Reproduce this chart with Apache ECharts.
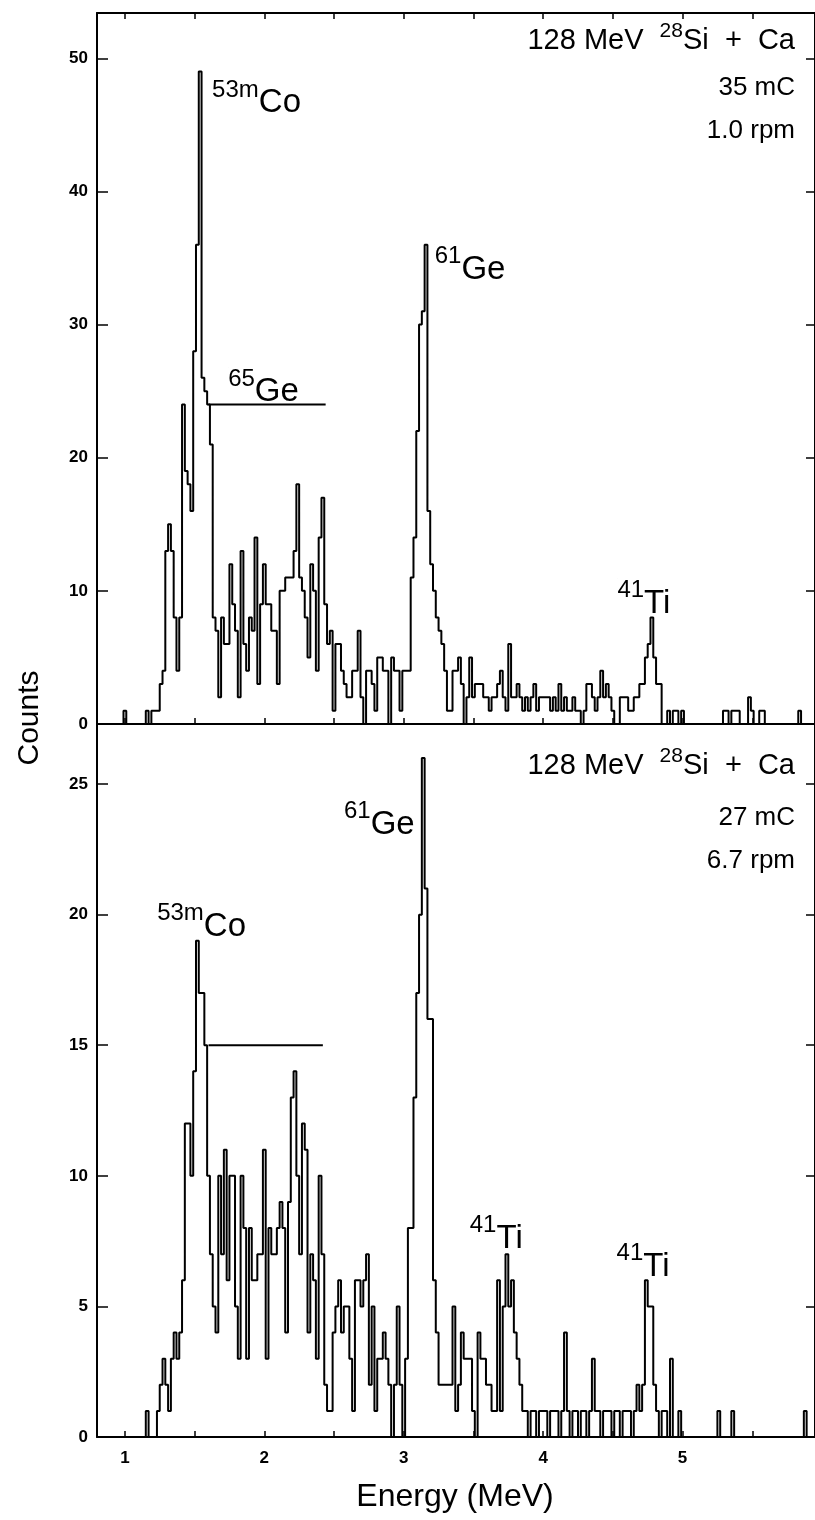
<!DOCTYPE html>
<html>
<head>
<meta charset="utf-8">
<script src="https://cdn.jsdelivr.net/npm/echarts@6/dist/echarts.min.js"></script>
<style>
  html, body { margin: 0; padding: 0; background: #fff; }
  #chart { width: 815px; height: 1520px; }
</style>
</head>
<body>
<div id="chart"></div>
<script>
// Pulse-height spectra: counts per 20 keV channel, first channel starts at 0.97 MeV
const BIN_START = 0.97;
const BIN_WIDTH = 0.02;

// 35 mC, 1.0 rpm
const topCounts = [
  0,1,0,0,0,0,0,0,0,1,
  0,1,1,1,3,4,13,15,13,8,
  4,8,24,19,18,16,28,36,49,26,
  25,24,21,8,7,2,8,6,6,12,
  9,7,2,13,6,4,8,7,14,3,
  9,12,9,9,7,7,3,10,10,11,
  11,11,13,18,11,10,8,5,12,10,
  4,14,17,9,6,7,1,6,6,4,
  3,2,2,4,4,7,2,0,4,4,
  3,1,5,5,4,4,0,5,4,4,
  1,4,4,4,11,14,22,30,31,36,
  16,12,10,8,7,6,4,1,1,4,
  4,5,3,0,2,5,2,3,3,3,
  2,2,1,2,2,3,4,2,1,6,
  2,2,3,2,1,2,1,2,3,1,
  2,2,2,2,1,2,1,3,1,2,
  1,1,2,1,1,0,1,3,3,2,
  1,2,4,2,3,2,1,0,0,2,
  2,2,1,1,2,2,3,3,5,6,
  8,5,3,3,0,0,1,0,1,1,
  0,1,0,0,0,0,0,0,0,0,
  0,0,0,0,0,0,1,1,0,1,
  1,1,0,0,0,2,1,0,0,1,
  1,0,0,0,0,0,0,0,0,0,
  0,0,0,1,0,0,0,0,0
];

// 27 mC, 6.7 rpm
const bottomCounts = [
  0,0,0,0,0,0,0,0,0,1,
  0,0,0,1,2,3,2,1,3,4,
  3,4,6,12,12,10,14,19,17,17,
  15,10,7,5,4,10,7,11,6,10,
  10,5,3,10,8,3,8,6,6,7,
  7,11,3,8,7,7,8,9,8,4,
  9,13,14,10,7,12,11,4,7,6,
  3,10,7,2,1,1,4,5,6,4,
  5,5,3,1,6,6,5,6,7,2,
  5,1,3,3,4,3,2,0,2,5,
  2,0,3,8,8,13,17,20,26,21,
  16,16,6,4,2,2,2,2,2,5,
  1,2,4,3,3,3,1,0,4,3,
  3,2,2,1,1,6,1,5,7,5,
  6,4,3,2,1,1,0,1,1,0,
  1,1,1,0,1,1,1,0,1,4,
  1,0,1,1,0,1,1,0,1,3,
  1,1,0,1,1,1,0,1,1,0,
  1,1,1,0,1,2,1,2,6,5,
  5,2,1,0,1,1,0,3,0,0,
  1,0,0,0,0,0,0,0,0,0,
  0,0,0,0,1,0,0,0,0,1,
  0,0,0,0,0,0,0,0,0,0,
  0,0,0,0,0,0,0,0,0,0,
  0,0,0,0,0,1,0,0,0
];

const energyTicks = [1, 1.5, 2, 2.5, 3, 3.5, 4, 4.5, 5, 5.5];
const energyLabels = [1, 2, 3, 4, 5];
const topCountTicks = [0, 10, 20, 30, 40, 50];
const bottomCountTicks = [0, 5, 10, 15, 20, 25];

// energy window of the 65Ge group, and the count level it is marked at
const topGeWindow = [[1.60, 24], [2.44, 24]];
const bottomGeWindow = [[1.60, 15], [2.42, 15]];

// isotope labels: panel, superscript, symbol, anchor (energy, counts)
const isotopeLabels = [
  { panel: 0, sup: '53m', main: 'Co', at: [1.626, 48.5] },
  { panel: 0, sup: '61',  main: 'Ge', at: [3.223, 36.0] },
  { panel: 0, sup: '65',  main: 'Ge', at: [1.741, 26.8] },
  { panel: 0, sup: '41',  main: 'Ti', at: [4.533, 10.9] },
  { panel: 1, sup: '61',  main: 'Ge', at: [2.572, 24.4] },
  { panel: 1, sup: '53m', main: 'Co', at: [1.232, 20.5] },
  { panel: 1, sup: '41',  main: 'Ti', at: [3.474, 8.55] },
  { panel: 1, sup: '41',  main: 'Ti', at: [4.527, 7.48] }
];

const runInfo = [
  { beam: '128 MeV  ', a: '28', target: 'Si  +  Ca', charge: '35 mC', speed: '1.0 rpm' },
  { beam: '128 MeV  ', a: '28', target: 'Si  +  Ca', charge: '27 mC', speed: '6.7 rpm' }
];

const FONT = '"Liberation Sans", Arial, Helvetica, sans-serif';
const INK = '#000';

function histogram(counts) {
  const pts = counts.map((c, k) => [+(BIN_START + k * BIN_WIDTH).toFixed(3), c]);
  pts.push([+(BIN_START + counts.length * BIN_WIDTH).toFixed(3), counts[counts.length - 1]]);
  return pts;
}

const chart = echarts.init(document.getElementById('chart'), null, { renderer: 'canvas' });

const tickLabelStyle = { color: INK, fontFamily: FONT, fontSize: 17, fontWeight: 'bold' };

function energyAxis(gridIndex, position, showLabels) {
  return {
    type: 'value', gridIndex, position, min: 0.8, max: 5.95,
    axisLine: { show: true, onZero: false, lineStyle: { color: INK, width: 2 } },
    axisTick: { show: true, inside: true, length: 6, customValues: energyTicks, lineStyle: { color: INK, width: 1.5 } },
    axisLabel: showLabels
      ? Object.assign({ show: true, margin: 13, customValues: energyLabels }, tickLabelStyle)
      : { show: false },
    splitLine: { show: false }
  };
}

function countAxis(gridIndex, position, max, ticks) {
  const left = position === 'left';
  return {
    type: 'value', gridIndex, position, min: 0, max,
    axisLine: { show: true, onZero: false, lineStyle: { color: INK, width: 2 } },
    axisTick: { show: true, inside: true, length: left ? 11 : 9, customValues: ticks, lineStyle: { color: INK, width: 1.5 } },
    axisLabel: left
      ? Object.assign({ show: true, margin: 9, customValues: ticks }, tickLabelStyle)
      : { show: false },
    splitLine: { show: false }
  };
}

const labelSeries = [0, 1].map(panel => ({
  type: 'scatter',
  xAxisIndex: panel === 0 ? 0 : 2,
  yAxisIndex: panel === 0 ? 0 : 2,
  symbol: 'circle', symbolSize: 0.1,
  itemStyle: { color: INK, opacity: 1 },
  silent: true,
  z: 5,
  data: isotopeLabels.filter(d => d.panel === panel).map(d => ({
    value: d.at,
    label: {
      show: true, position: [0, 0], align: 'left', verticalAlign: 'top',
      color: INK, opacity: 1, textBorderWidth: 0,
      formatter: '{s|' + d.sup + '}{m|' + d.main + '}',
      rich: {
        s: { fontFamily: FONT, fontSize: 24, lineHeight: 25, verticalAlign: 'top', color: INK },
        m: { fontFamily: FONT, fontSize: 33, lineHeight: 50, color: INK }
      }
    }
  }))
}));

function headerGraphics(info, yTop, yCharge, ySpeed) {
  return [
    {
      type: 'text', x: 795, y: yTop, z: 10,
      style: {
        text: '{m|' + info.beam + '}{s|' + info.a + '}{m|' + info.target + '}',
        align: 'right', verticalAlign: 'top',
        rich: {
          m: { fontFamily: FONT, fontSize: 29, lineHeight: 40, fill: INK },
          s: { fontFamily: FONT, fontSize: 21, lineHeight: 20, verticalAlign: 'top', fill: INK }
        }
      }
    },
    { type: 'text', x: 795, y: yCharge, z: 10,
      style: { text: info.charge, font: '26px ' + FONT, fill: INK, align: 'right', verticalAlign: 'middle' } },
    { type: 'text', x: 795, y: ySpeed, z: 10,
      style: { text: info.speed, font: '26px ' + FONT, fill: INK, align: 'right', verticalAlign: 'middle' } }
  ];
}

chart.setOption({
  animation: false,
  backgroundColor: '#fff',
  grid: [
    { left: 97, top: 13, width: 719, height: 711 },
    { left: 97, top: 724, width: 719, height: 713 }
  ],
  xAxis: [
    energyAxis(0, 'bottom', false),
    energyAxis(0, 'top', false),
    energyAxis(1, 'bottom', true)
  ],
  yAxis: [
    countAxis(0, 'left', 53.4, topCountTicks),
    countAxis(0, 'right', 53.4, topCountTicks),
    countAxis(1, 'left', 27.3, bottomCountTicks),
    countAxis(1, 'right', 27.3, bottomCountTicks)
  ],
  series: [
    {
      type: 'line', step: 'end', xAxisIndex: 0, yAxisIndex: 0,
      data: histogram(topCounts), symbol: 'none',
      lineStyle: { color: INK, width: 2 }, silent: true
    },
    {
      type: 'line', step: 'end', xAxisIndex: 2, yAxisIndex: 2,
      data: histogram(bottomCounts), symbol: 'none',
      lineStyle: { color: INK, width: 2 }, silent: true
    },
    {
      type: 'line', xAxisIndex: 0, yAxisIndex: 0, data: topGeWindow,
      symbol: 'none', lineStyle: { color: INK, width: 2 }, silent: true
    },
    {
      type: 'line', xAxisIndex: 2, yAxisIndex: 2, data: bottomGeWindow,
      symbol: 'none', lineStyle: { color: INK, width: 2 }, silent: true
    }
  ].concat(labelSeries),
  graphic: [
    ...headerGraphics(runInfo[0], 21, 88, 131),
    ...headerGraphics(runInfo[1], 746, 818, 861),
    {
      type: 'text', x: 30, y: 718, rotation: Math.PI / 2, z: 10,
      style: { text: 'Counts', font: '30px ' + FONT, fill: INK, align: 'center', verticalAlign: 'middle' }
    },
    {
      type: 'text', x: 455, y: 1497, z: 10,
      style: { text: 'Energy (MeV)', font: '32px ' + FONT, fill: INK, align: 'center', verticalAlign: 'middle' }
    }
  ]
});
</script>
</body>
</html>
